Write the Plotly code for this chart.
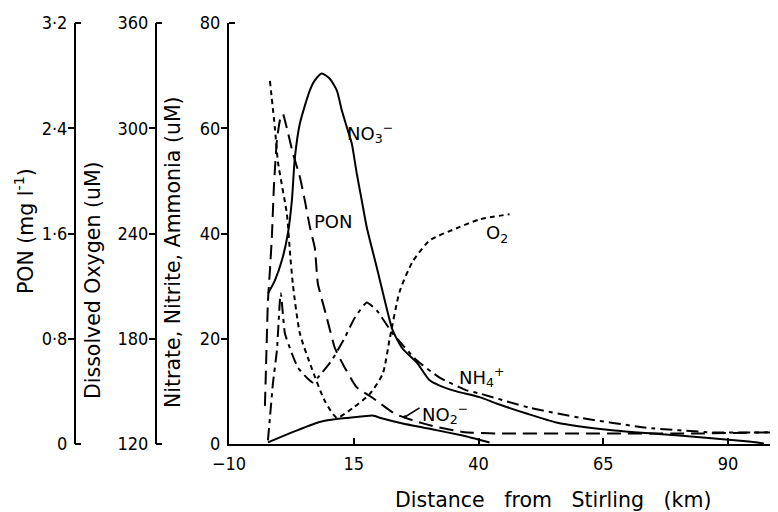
import plotly.graph_objects as go

# ---- data ----
no3_km = [-2.2, -0.8, 0.6, 1.8, 2.6, 3.2, 4.2, 6.2, 7.2, 8.6, 10.2, 11.6, 12.6, 13.8, 14.6, 15.6,
          16.6, 17.6, 19.6, 21.2, 22.8, 24.8, 27.6, 30.2, 32.2, 35.6, 40.2, 43.6, 49.6, 55.6,
          66.8, 80.2, 93.6, 97.2]
no3_um = [28.6, 31.1, 34.9, 40.0, 46.3, 54.4, 60.9, 67.2, 69.1, 70.4, 69.4, 67.2, 63.4, 59.6, 57.1, 51.4,
          46.3, 41.2, 33.6, 27.3, 21.6, 18.1, 15.5, 12.1, 11.1, 10.0, 8.9, 7.7, 5.8, 4.1,
          2.6, 1.6, 0.5, 0.1]

nh4_km = [-2.2, -1.8, -1.2, -0.4, 0.2, 0.4, 1.2, 2.6, 3.8, 5.8, 6.8, 7.8, 10.6, 13.2, 15.2, 17.6,
          19.6, 22.8, 27.6, 32.2, 37.6, 40.2, 50.2, 60.2, 73.6, 86.8, 99.6]
nh4_um = [0.7, 5.0, 11.5, 17.8, 27.3, 28.6, 21.0, 17.2, 14.5, 12.4, 11.7, 12.6, 15.9, 20.2, 24.0, 26.9,
          25.4, 21.0, 15.9, 12.6, 10.2, 9.6, 6.9, 5.0, 3.1, 2.2, 2.2]

no2_km = [-2.2, 2.6, 7.8, 11.8, 14.2, 18.8, 20.2, 24.8, 30.2, 36.8, 42.2]
no2_um = [0.3, 2.2, 4.1, 4.8, 5.0, 5.4, 5.0, 3.9, 2.9, 1.6, 0.3]

o2_km = [-1.8, -0.8, -0.2, 1.6, 2.2, 2.8, 4.2, 6.6, 9.2, 11.6, 14.8, 18.2, 20.8, 22.2, 24.2,
         26.8, 30.2, 35.6, 40.2, 46.2]
o2_um = [327, 300, 281, 251, 230, 211, 183, 163, 144.5, 135, 140.5, 148.5, 160, 180, 207,
         224, 236, 243, 248, 251]

pon_km = [-2.8, -2.6, -2.2, -1.8, -1.4, -1.0, -0.4, 0.2, 0.8, 1.6, 2.8, 4.2, 5.2, 6.2, 7.2, 7.8,
          9.6, 11.2, 13.2, 15.6, 18.8, 23.2, 27.6, 31.6, 37.2, 44.2, 64.2, 84.2, 99.6]
pon_mg = [0.29, 0.56, 1.09, 1.32, 1.58, 1.96, 2.31, 2.46, 2.51, 2.40, 2.21, 2.03, 1.85, 1.65, 1.49, 1.22,
          0.96, 0.73, 0.58, 0.43, 0.35, 0.23, 0.17, 0.13, 0.09, 0.08, 0.08, 0.08, 0.09]

x_ticks = [-10, 15, 40, 65, 90]
n_ticks = [0, 20, 40, 60, 80]
o_ticks = [120, 180, 240, 300, 360]
p_ticks = [0, 0.8, 1.6, 2.4, 3.2]
p_ticktext = ["0", "0·8", "1·6", "2·4", "3·2"]

# The page body adds an 8px offset, so the figure is laid out in page pixels minus 8.
OFF = 8
W, H = 778 - OFF, 512 - OFF
TOP, BOT = 23, 444          # page pixels of plot top / bottom
LEFT = 229                  # page pixel of the x-axis start
X_RANGE = [-10, 100]

TICKFONT = dict(family="DejaVu Sans Condensed, DejaVu Sans, sans-serif", size=18, color="black")
TITLEFONT = dict(family="DejaVu Sans, sans-serif", size=20.5, color="black")
LABELFONT = dict(family="DejaVu Sans, sans-serif", size=18, color="black")


def px_to_paper_x(X):
    return (X - OFF) / W


def px_to_paper_y(Y):
    return (BOT - Y) / (BOT - TOP)


def px_to_km(X):
    return X_RANGE[0] + (X - LEFT) / ((778 - LEFT) / (X_RANGE[1] - X_RANGE[0]))


def px_to_um(Y):
    return (BOT - Y) / ((BOT - TOP) / 80)


fig = go.Figure()
lw = 2
fig.add_trace(go.Scatter(x=no3_km, y=no3_um, mode="lines", name="NO3-",
                         line=dict(color="black", width=lw, shape="spline", smoothing=0.6)))
fig.add_trace(go.Scatter(x=nh4_km, y=nh4_um, mode="lines", name="NH4+",
                         line=dict(color="black", width=lw, dash="12px,5px,4px,5px",
                                   shape="spline", smoothing=0.4)))
fig.add_trace(go.Scatter(x=no2_km, y=no2_um, mode="lines", name="NO2-",
                         line=dict(color="black", width=lw, shape="spline", smoothing=0.4)))
fig.add_trace(go.Scatter(x=o2_km, y=o2_um, mode="lines", name="O2", yaxis="y2",
                         line=dict(color="black", width=lw, dash="5px,4px",
                                   shape="spline", smoothing=0.6)))
fig.add_trace(go.Scatter(x=pon_km, y=pon_mg, mode="lines", name="PON", yaxis="y3",
                         line=dict(color="black", width=lw, dash="14px,7px",
                                   shape="spline", smoothing=0.4)))

common_y = dict(showline=True, linecolor="black", linewidth=2, ticks="", showgrid=False,
                zeroline=False, tickfont=TICKFONT, fixedrange=True, automargin=False,
                ticklabelstandoff=3)
minor_len = dict(ticks="outside", ticklen=6, tickwidth=2, tickcolor="black")

fig.update_layout(
    width=W, height=H,
    margin=dict(l=0, r=0, t=TOP - OFF, b=H - (BOT - OFF)),
    paper_bgcolor="white", plot_bgcolor="white",
    showlegend=False,
    xaxis=dict(domain=[px_to_paper_x(LEFT), 1], range=X_RANGE, tickmode="array",
               tickvals=x_ticks, showline=True, linecolor="black", linewidth=2,
               ticks="inside", ticklen=6, tickwidth=2, tickcolor="black", showgrid=False,
               zeroline=False, tickfont=TICKFONT, ticklabelstandoff=2, automargin=False,
               fixedrange=True),
    yaxis=dict(range=[0, 80], tickmode="array", tickvals=n_ticks,
               minor=dict(tickvals=n_ticks[1:-1], **minor_len), **common_y),
    yaxis2=dict(range=[120, 360], tickmode="array", tickvals=o_ticks, overlaying="y",
                anchor="free", position=px_to_paper_x(156), side="left",
                minor=dict(tickvals=o_ticks[1:-1], **minor_len), **common_y),
    yaxis3=dict(range=[0, 3.2], tickmode="array", tickvals=p_ticks, ticktext=p_ticktext,
                overlaying="y", anchor="free", position=px_to_paper_x(75), side="left",
                minor=dict(tickvals=p_ticks[1:-1], **minor_len), **common_y),
)

# small end hooks on the three vertical axes (pointing right)
for ax_x in (75, 156):
    for Y in (TOP, BOT):
        fig.add_shape(type="line", xref="paper", yref="paper",
                      x0=px_to_paper_x(ax_x), x1=px_to_paper_x(ax_x + 6),
                      y0=px_to_paper_y(Y), y1=px_to_paper_y(Y),
                      line=dict(color="black", width=2))
fig.add_shape(type="line", xref="paper", yref="paper",
              x0=px_to_paper_x(LEFT), x1=px_to_paper_x(LEFT + 6),
              y0=1, y1=1, line=dict(color="black", width=2))

# axis titles
NB = "\u00a0"
fig.add_annotation(text=f"Distance{NB*3}from{NB*3}Stirling{NB*3}(km)",
                   xref="paper", yref="paper", x=px_to_paper_x(553), y=px_to_paper_y(500),
                   showarrow=False, font=TITLEFONT, xanchor="center", yanchor="middle")
fig.add_annotation(text="PON (mg l<sup>-1</sup>)", textangle=-90,
                   xref="paper", yref="paper", x=px_to_paper_x(24), y=px_to_paper_y(231),
                   showarrow=False, font=TITLEFONT, xanchor="center", yanchor="middle")
fig.add_annotation(text="Dissolved Oxygen (uM)", textangle=-90,
                   xref="paper", yref="paper", x=px_to_paper_x(93), y=px_to_paper_y(280),
                   showarrow=False, font=TITLEFONT, xanchor="center", yanchor="middle")
fig.add_annotation(text="Nitrate, Nitrite, Ammonia (uM)", textangle=-90,
                   xref="paper", yref="paper", x=px_to_paper_x(173), y=px_to_paper_y(252),
                   showarrow=False, font=TITLEFONT, xanchor="center", yanchor="middle")


# curve labels
def lab(text, X, Y):
    fig.add_annotation(text=text, x=px_to_km(X), y=px_to_um(Y), xref="x", yref="y",
                       showarrow=False, font=LABELFONT)


lab("NO<sub>3</sub><sup>\u2212</sup>", 370, 133)
lab("PON", 333, 221)
lab("O<sub>2</sub>", 497, 234)
lab("NH<sub>4</sub><sup>+</sup>", 482, 377)
lab("NO<sub>2</sub><sup>\u2212</sup>", 445, 414)

# arrow from the NO2- label
fig.add_annotation(x=px_to_km(405), y=px_to_um(417), ax=px_to_km(421), ay=px_to_um(407),
                   xref="x", yref="y", axref="x", ayref="y", text="", showarrow=True,
                   arrowhead=6, arrowsize=0.6, arrowwidth=1.5, arrowcolor="black")

fig.write_html("out.html")
